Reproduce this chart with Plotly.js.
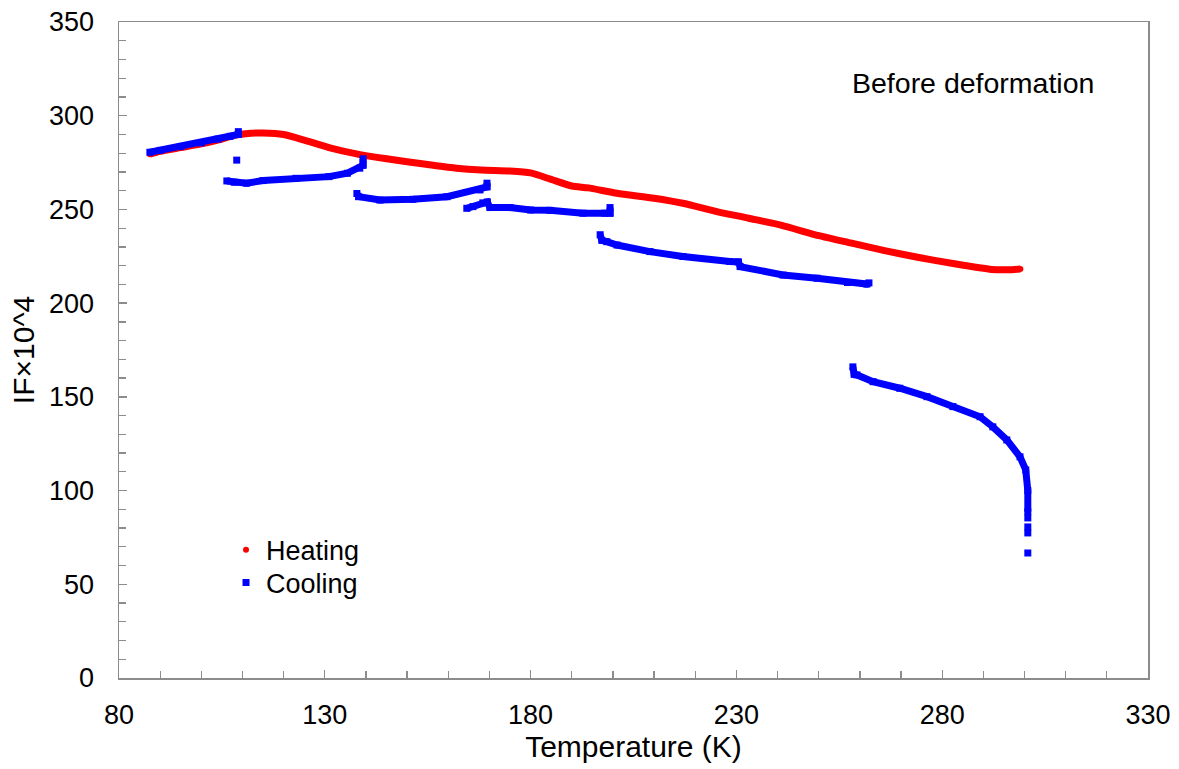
<!DOCTYPE html>
<html>
<head>
<meta charset="utf-8">
<script src="https://cdn.plot.ly/plotly-3.0.1.min.js"></script>
<style>html,body{margin:0;padding:0;background:#fff;}#chart{width:1179px;height:769px;}</style>
</head>
<body>
<div id="chart"></div>
<script>
// Heating run
const heatT = [87.5, 90, 95, 100, 105, 108, 112, 115, 120, 125, 131, 138, 145, 155, 162, 168, 175, 180, 185, 190, 194, 201, 210, 217, 225, 233, 241, 250, 258, 266, 274, 283, 292, 296, 299];
const heatIF = [279.5, 281, 283, 285, 287.5, 289.5, 290.6, 290.8, 290, 287, 283, 279.5, 277, 274, 272, 271, 270.5, 269.5, 266, 262.5, 261.5, 258.6, 256, 253.3, 249, 245.3, 241.5, 236, 232, 228, 224.5, 221, 218, 217.8, 218.2];

// Cooling run (segments separated by null)
const coolT = [
  87.5, 90, 95, 100, 104, 107, 109, 109, null,
  108.6, null,
  106.2, 108, 111, 115, 123, 131, 135.5, 138.5, 139.3, 139.3, null,
  137.8, 138.2, 143.4, 151.4, 159.7, 167.7, 169.4, 169.4, null,
  164.5, 166, 168.4, 169.5, 170.1, 175, 180, 184.7, 192.7, 198, 199.3, 199.3, null,
  196.9, 197.3, 198.5, 201, 209, 217, 228.4, 230.5, 230.9, 241.3, 249.6, 257, 261.7, 262.2, null,
  258.3, 258.6, 259.3, 263.2, 269.7, 276.3, 282.6, 289.2, 292.3, 295.7, 298.9, 300.3, 300.8, 300.8, null,
  300.8, null, 300.8, null, 300.8, null, 300.8
];
const coolIF = [
  280.5, 281.5, 283.5, 285.5, 287.5, 289, 290, 291.5, null,
  276.3, null,
  265.2, 264.5, 264, 265.4, 266.6, 267.5, 269.3, 272, 273.5, 277, null,
  258.5, 256.8, 255, 255.4, 256.8, 260.4, 262, 264, null,
  250.6, 251.5, 253.5, 254, 251, 251, 249.7, 249.5, 248, 248, 248, 251, null,
  236.5, 233.5, 232.8, 231, 227.5, 224.9, 222.2, 222, 219.5, 215, 213.3, 211, 210.2, 210.8, null,
  166, 162, 161.7, 158.1, 154.6, 150.1, 144.8, 139.4, 134, 127, 118, 111, 100, 88.7, null,
  85.4, null, 80.6, null, 77.4, null, 66.7
];

const seriesNames = ["Heating", "Cooling"];
const labelText = "Before deformation";
const xTitle = "Temperature (K)";
const yTitle = "IF×10^4";

const RED = "#ff0000", BLUE = "#0000ff";
const FONT = "Liberation Sans, Arial, sans-serif";
const AX = "#8c8c8c";

const traces = [
  {x: heatT, y: heatIF, mode: "lines", line: {color: RED, width: 7, shape: "spline", smoothing: 0.6}, showlegend: false, hoverinfo: "skip"},
  {x: heatT, y: heatIF, mode: "markers", name: seriesNames[0], legend: "legend", marker: {color: RED, size: 6, symbol: "circle"}},
  {x: coolT, y: coolIF, mode: "lines", connectgaps: false, line: {color: BLUE, width: 7}, showlegend: false, hoverinfo: "skip"},
  {x: coolT, y: coolIF, mode: "markers", name: seriesNames[1], legend: "legend2", marker: {color: BLUE, size: 7, symbol: "square"}}
];

const axisCommon = {
  showgrid: false, zeroline: false,
  showline: true, linecolor: AX, linewidth: 1.5, mirror: true,
  ticks: "inside", ticklen: 8, tickwidth: 1.3, tickcolor: AX,
  tickfont: {family: FONT, size: 27, color: "#000"},
  minor: {dtick: 10, ticks: "inside", ticklen: 7, tickwidth: 1.3, tickcolor: AX}
};

const legendCommon = {
  xanchor: "left", yanchor: "middle",
  bgcolor: "rgba(0,0,0,0)", font: {family: FONT, size: 27, color: "#000"},
  itemwidth: 30, borderwidth: 0
};

const layout = {
  width: 1179, height: 769,
  margin: {l: 119, r: 31, t: 22, b: 91},
  paper_bgcolor: "#fff", plot_bgcolor: "#fff",
  font: {family: FONT, color: "#000"},
  xaxis: Object.assign({}, axisCommon, {
    range: [80, 330], tick0: 80, dtick: 50,
    ticklabelstandoff: 12,
    title: {text: xTitle, font: {family: FONT, size: 30, color: "#000"}, standoff: 6}
  }),
  yaxis: Object.assign({}, axisCommon, {
    range: [0, 350], tick0: 0, dtick: 50,
    ticklabelstandoff: 18,
    title: {text: yTitle, font: {family: FONT, size: 30, color: "#000"}, standoff: 5}
  }),
  legend: Object.assign({}, legendCommon, {x: 0.104, y: 0.195}),
  legend2: Object.assign({}, legendCommon, {x: 0.104, y: 0.145}),
  annotations: [{
    text: labelText, xref: "paper", yref: "paper", x: 0.83, y: 0.907,
    xanchor: "center", yanchor: "middle", showarrow: false,
    font: {family: FONT, size: 28.5, color: "#000"}
  }],
  hovermode: false
};

Plotly.newPlot("chart", traces, layout, {displayModeBar: false, staticPlot: true});
</script>
</body>
</html>
